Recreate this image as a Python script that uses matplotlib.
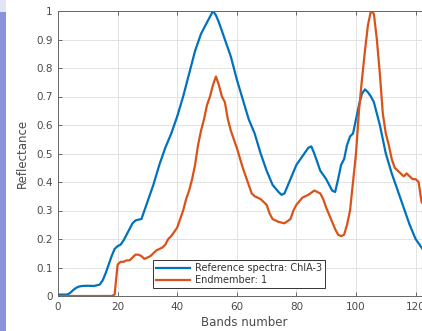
import matplotlib
matplotlib.use("Agg")
import matplotlib.pyplot as plt
from matplotlib.patches import Rectangle

# ---- data ----
ref_bands = [0, 1, 2, 3, 4, 5, 6, 7, 8, 10, 12, 14, 15, 16, 17, 18, 19, 20, 21, 22, 23,
             24, 25, 26, 27, 28, 29, 30, 32, 34, 36, 38, 40, 42, 44, 46, 48, 50, 51, 52,
             53, 54, 56, 58, 60, 62, 64, 66, 68, 70, 72, 74, 75, 76, 78, 80, 82, 84, 85,
             86, 88, 90, 92, 93, 94, 95, 96, 97, 98, 99, 100, 101, 102, 103, 104, 105,
             106, 108, 110, 112, 114, 116, 118, 120, 122, 124]
ref_vals = [0.005, 0.005, 0.005, 0.005, 0.01, 0.02, 0.028, 0.033, 0.035, 0.036, 0.035,
            0.04, 0.055, 0.08, 0.11, 0.14, 0.165, 0.175, 0.18, 0.195, 0.215, 0.235, 0.255,
            0.265, 0.268, 0.27, 0.3, 0.33, 0.39, 0.46, 0.52, 0.57, 0.63, 0.7, 0.78, 0.86,
            0.92, 0.96, 0.98, 1.0, 0.985, 0.96, 0.9, 0.84, 0.76, 0.69, 0.62, 0.57, 0.5,
            0.44, 0.39, 0.365, 0.355, 0.36, 0.41, 0.46, 0.49, 0.52, 0.525, 0.5, 0.44, 0.41,
            0.37, 0.365, 0.41, 0.46, 0.48, 0.53, 0.56, 0.57, 0.62, 0.67, 0.71, 0.725,
            0.715, 0.7, 0.68, 0.6, 0.5, 0.43, 0.37, 0.31, 0.25, 0.2, 0.17, 0.14]

end_bands = [0, 18, 19, 20, 21, 22, 23, 24, 25, 26, 27, 28, 29, 30, 31, 32, 33, 34, 35,
             36, 37, 38, 39, 40, 41, 42, 43, 44, 45, 46, 47, 48, 49, 50, 51, 52, 53, 54,
             55, 56, 57, 58, 60, 62, 64, 65, 66, 68, 70, 71, 72, 74, 76, 78, 79, 80, 82,
             84, 86, 88, 89, 90, 92, 93, 94, 95, 96, 97, 98, 99, 100, 101, 102, 103, 104,
             105, 106, 107, 108, 109, 110, 111, 112, 113, 114, 115, 116, 117, 118, 119,
             120, 121, 122, 124]
end_vals = [0.0, 0.0, 0.005, 0.11, 0.12, 0.12, 0.125, 0.125, 0.135, 0.145, 0.145, 0.14,
            0.13, 0.135, 0.14, 0.15, 0.16, 0.165, 0.17, 0.18, 0.2, 0.21, 0.225, 0.24,
            0.27, 0.3, 0.34, 0.37, 0.41, 0.46, 0.53, 0.58, 0.62, 0.67, 0.7, 0.74, 0.77,
            0.74, 0.7, 0.68, 0.62, 0.58, 0.52, 0.45, 0.39, 0.36, 0.35, 0.34, 0.32, 0.29,
            0.27, 0.26, 0.255, 0.27, 0.3, 0.32, 0.345, 0.355, 0.37, 0.36, 0.34, 0.31,
            0.26, 0.235, 0.215, 0.21, 0.215, 0.25, 0.3, 0.4, 0.5, 0.65, 0.76, 0.86, 0.95,
            1.0, 0.99, 0.9, 0.78, 0.64, 0.57, 0.53, 0.48, 0.45, 0.44, 0.43, 0.42, 0.43,
            0.42, 0.41, 0.41, 0.40, 0.33, 0.3]

labels = ["Reference spectra: ChlA-3", "Endmember: 1"]
colors = ["#0072BD", "#D95319"]

# ---- figure ----
W, H = 422, 331
fig = plt.figure(figsize=(W / 100, H / 100), dpi=100)
fig.patch.set_facecolor("white")

# left decorative strip (screenshot edge)
fig.add_artist(Rectangle((0, 0), 6 / W, (H - 12) / H, transform=fig.transFigure,
                         facecolor="#8a92dc", edgecolor="none"))
fig.add_artist(Rectangle((0, (H - 12) / H), 6 / W, 12 / H, transform=fig.transFigure,
                         facecolor="#dfe6f6", edgecolor="none"))

ax_left = 58 / W
ax_bottom = 35 / H
ax_w = (2.98 * 125) / W
ax_h = 285 / H
ax = fig.add_axes([ax_left, ax_bottom, ax_w, ax_h])

ax.plot(ref_bands, ref_vals, color=colors[0], lw=1.6, label=labels[0])
ax.plot(end_bands, end_vals, color=colors[1], lw=1.6, label=labels[1])

ax.set_xlim(0, 125)
ax.set_ylim(0, 1)
ax.set_xticks([0, 20, 40, 60, 80, 100, 120])
ax.set_yticks([i / 10 for i in range(11)])
ax.set_yticklabels(["0", "0.1", "0.2", "0.3", "0.4", "0.5", "0.6", "0.7", "0.8", "0.9", "1"])

txt = "#4a4a4a"
ax.tick_params(direction="in", top=True, right=True, length=3, width=0.6,
               colors="#555555", labelcolor=txt, labelsize=7.5, pad=4)
ax.grid(True, color="#e3e3e3", lw=0.7)
ax.set_axisbelow(True)
for s in ax.spines.values():
    s.set_color("#666666")
    s.set_linewidth(0.7)

ax.set_xlabel("Bands number", fontsize=8.5, color=txt, labelpad=3)
ax.set_ylabel("Reflectance", fontsize=8.5, color=txt, labelpad=5)

leg = ax.legend(loc="lower left", bbox_to_anchor=(0.255, 0.028), borderaxespad=0,
                fontsize=7, frameon=True, fancybox=False, framealpha=1,
                edgecolor="#333333", handlelength=3.5, handletextpad=0.5,
                labelspacing=0.2, borderpad=0.3)
leg.get_frame().set_linewidth(0.7)
for t in leg.get_texts():
    t.set_color("#333333")

fig.savefig("out.png", dpi=100)
